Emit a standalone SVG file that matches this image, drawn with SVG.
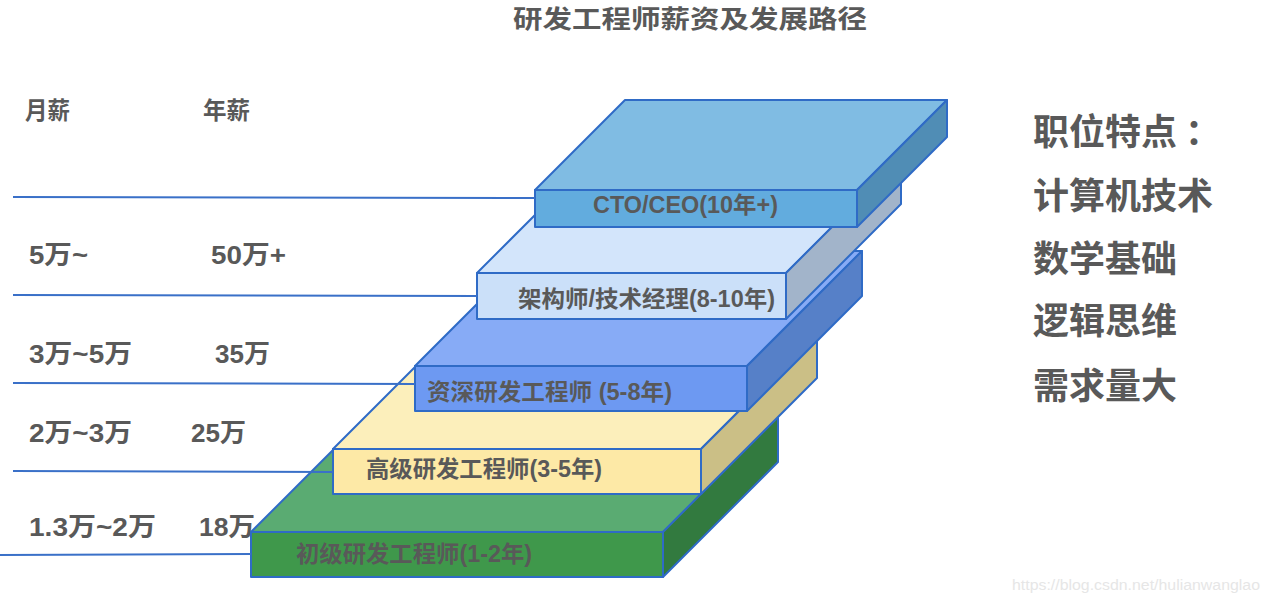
<svg xmlns="http://www.w3.org/2000/svg" width="1270" height="602" viewBox="0 0 1270 602">
<style>
  .face { stroke: #2f6bc6; stroke-width: 2; stroke-linejoin: round; }
  .t { font-family: "Liberation Sans", "Noto Sans CJK SC", sans-serif; font-weight: bold; fill: #595959; }
  .cjk { font-family: "Noto Sans CJK SC", sans-serif; font-weight: bold; fill: #595959; }
  .conn { stroke: #3a70c8; stroke-width: 2; fill: none; }
  .g-top { fill: #5aab72; } .g-front { fill: #3f984b; } .g-side { fill: #327a3f; }
  .y-top { fill: #fcefbb; } .y-front { fill: #fde9a6; } .y-side { fill: #cbbf86; }
  .b-top { fill: #87abf6; } .b-front { fill: #6d99f2; } .b-side { fill: #5680c8; }
  .l-top { fill: #d3e5fb; } .l-front { fill: #cbe0f9; } .l-side { fill: #a2b4ca; }
  .c-top { fill: #80bce3; } .c-front { fill: #62acde; } .c-side { fill: #508db5; }
</style>
<rect width="1270" height="602" fill="#ffffff"/>

<g id="title">
  <text class="cjk" x="513" y="28" font-size="25" textLength="354" lengthAdjust="spacingAndGlyphs">研发工程师薪资及发展路径</text>
</g>

<g id="headers">
  <text class="cjk" x="25" y="119" font-size="24" textLength="45" lengthAdjust="spacingAndGlyphs">月薪</text>
  <text class="cjk" x="203" y="119" font-size="24" textLength="47" lengthAdjust="spacingAndGlyphs">年薪</text>
</g>

<g id="salaries">
  <text class="t" x="29" y="264" font-size="26" textLength="59" lengthAdjust="spacingAndGlyphs">5万~</text>
  <text class="t" x="211" y="264" font-size="26" textLength="75" lengthAdjust="spacingAndGlyphs">50万+</text>
  <text class="t" x="29" y="363" font-size="26" textLength="103" lengthAdjust="spacingAndGlyphs">3万~5万</text>
  <text class="t" x="215" y="363" font-size="26" textLength="55" lengthAdjust="spacingAndGlyphs">35万</text>
  <text class="t" x="29" y="442" font-size="26" textLength="103" lengthAdjust="spacingAndGlyphs">2万~3万</text>
  <text class="t" x="191" y="442" font-size="26" textLength="55" lengthAdjust="spacingAndGlyphs">25万</text>
  <text class="t" x="29" y="536" font-size="26" textLength="127" lengthAdjust="spacingAndGlyphs">1.3万~2万</text>
  <text class="t" x="199" y="536" font-size="26" textLength="56" lengthAdjust="spacingAndGlyphs">18万</text>
</g>

<g id="block-junior">
  <polygon class="face g-top" points="251,532 366,417 778,417 663,532"/>
  <polygon class="face g-side" points="663,532 778,417 778,462 663,577"/>
  <rect class="face g-front" x="251" y="532" width="412" height="45"/>
  <text class="t" x="296" y="562" font-size="23" textLength="236" lengthAdjust="spacingAndGlyphs">初级研发工程师(1-2年)</text>
</g>

<g id="block-senior">
  <polygon class="face y-top" points="333,449 449,333 817,333 701,449"/>
  <polygon class="face y-side" points="701,449 817,333 817,378 701,494"/>
  <rect class="face y-front" x="333" y="449" width="368" height="45"/>
  <text class="t" x="366" y="477" font-size="23" textLength="236" lengthAdjust="spacingAndGlyphs">高级研发工程师(3-5年)</text>
</g>

<g id="block-staff">
  <polygon class="face b-top" points="415,366 530,251 862,251 747,366"/>
  <polygon class="face b-side" points="747,366 862,251 862,296 747,411"/>
  <rect class="face b-front" x="415" y="366" width="332" height="45"/>
  <text class="t" x="427" y="400" font-size="23" textLength="245" lengthAdjust="spacingAndGlyphs">资深研发工程师 (5-8年)</text>
</g>

<g id="block-architect">
  <polygon class="face l-top" points="477,273 592,158 901,158 786,273"/>
  <polygon class="face l-side" points="786,273 901,158 901,204 786,319"/>
  <rect class="face l-front" x="477" y="273" width="309" height="46"/>
  <text class="t" x="518" y="307" font-size="23" textLength="257" lengthAdjust="spacingAndGlyphs">架构师/技术经理(8-10年)</text>
</g>

<g id="block-cto">
  <polygon class="face c-top" points="535,190 625,100 947,100 857,190"/>
  <polygon class="face c-side" points="857,190 947,100 947,137 857,227"/>
  <rect class="face c-front" x="535" y="190" width="322" height="37"/>
  <text class="t" x="593" y="213" font-size="23" textLength="185" lengthAdjust="spacingAndGlyphs">CTO/CEO(10年+)</text>
</g>

<g id="connectors">
  <line class="conn" x1="13" y1="197" x2="535" y2="198"/>
  <line class="conn" x1="13" y1="295" x2="477" y2="296"/>
  <line class="conn" x1="13" y1="383" x2="415" y2="384"/>
  <line class="conn" x1="13" y1="471" x2="333" y2="472"/>
  <line class="conn" x1="0" y1="555" x2="251" y2="554"/>
</g>

<g id="features">
  <text class="cjk" x="1033" y="145" font-size="36">职位特点<tspan dx="8">：</tspan></text>
  <text class="cjk" x="1033" y="209" font-size="36">计算机技术</text>
  <text class="cjk" x="1033" y="272" font-size="36">数学基础</text>
  <text class="cjk" x="1033" y="334" font-size="36">逻辑思维</text>
  <text class="cjk" x="1033" y="399" font-size="36">需求量大</text>
</g>

<g id="watermark">
  <text x="1012" y="590" font-family="Liberation Sans, sans-serif" font-size="14" fill="#e6e6e6" textLength="248" lengthAdjust="spacingAndGlyphs">https://blog.csdn.net/hulianwanglao</text>
</g>
</svg>
